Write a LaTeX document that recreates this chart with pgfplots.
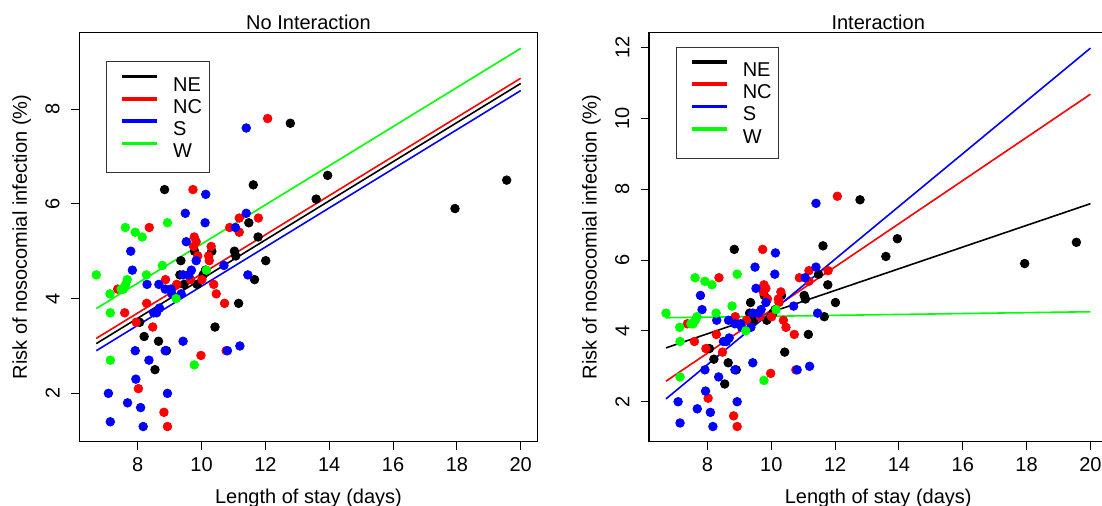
\documentclass[border=0pt]{standalone}
\usepackage{pgfplots}
\pgfplotsset{compat=1.18}
\usepackage{fontspec}
\setmainfont{Liberation Sans}
\definecolor{rred}{RGB}{255,0,0}
\definecolor{rblue}{RGB}{0,0,255}
\definecolor{rgreen}{RGB}{0,255,0}

\newcommand{\NEpts}{(8.84,6.3) (12.78,7.7) (13.95,6.6) (13.59,6.1) (19.56,6.5) (17.94,5.9) (11.62,6.4) (11.48,5.6) (11.77,5.3) (11.03,5.0) (11.07,4.9) (12.01,4.8) (11.66,4.4) (11.16,3.9) (10.42,3.4) (9.78,5.0) (10.32,5.0) (9.35,4.8) (9.32,4.5) (9.45,4.3) (9.86,4.3) (10.05,4.5) (10.12,4.6) (8.06,3.5) (8.20,3.2) (8.65,3.1) (8.90,2.9) (8.54,2.5)}
\newcommand{\NCpts}{(12.07,7.8) (9.73,6.3) (8.36,5.5) (11.18,5.7) (11.78,5.7) (10.88,5.5) (11.18,5.4) (9.77,5.3) (9.83,5.2) (9.75,5.1) (10.30,5.1) (9.88,4.9) (10.22,4.9) (10.24,4.8) (10.01,4.4) (9.65,4.4) (8.87,4.4) (9.22,4.3) (10.38,4.3) (10.46,4.1) (10.72,3.9) (7.37,4.2) (7.59,3.7) (8.28,3.9) (7.95,3.5) (8.47,3.4) (8.02,2.1) (9.98,2.8) (10.77,2.9) (8.82,1.6) (8.93,1.3)}
\newcommand{\Spts}{(11.40,7.6) (10.13,6.2) (9.49,5.8) (11.40,5.8) (10.11,5.6) (11.06,5.5) (9.52,5.2) (7.78,5.0) (9.83,4.8) (7.83,4.6) (9.68,4.6) (10.70,4.7) (9.42,4.5) (9.60,4.5) (11.45,4.5) (8.29,4.3) (8.66,4.3) (8.86,4.2) (9.04,4.2) (9.36,4.1) (9.07,4.1) (8.68,3.8) (8.50,3.7) (8.59,3.7) (9.42,3.1) (7.92,2.9) (8.86,2.9) (10.81,2.9) (11.20,3.0) (8.35,2.7) (7.94,2.3) (7.08,2.0) (8.93,2.0) (7.68,1.8) (8.09,1.7) (7.14,1.4) (8.17,1.3)}
\newcommand{\Wpts}{(6.70,4.5) (7.61,5.5) (7.92,5.4) (8.14,5.3) (8.93,5.6) (8.77,4.7) (8.27,4.5) (7.48,4.2) (7.55,4.2) (7.62,4.3) (7.67,4.4) (7.13,4.1) (7.14,3.7) (9.20,4.0) (10.15,4.6) (7.14,2.7) (9.77,2.6)}

\pgfplotsset{
  rstyle/.style={
    scale only axis, width=229.2pt, height=204.7pt,
    xmin=6.168, xmax=20.532,
    xtick={8,10,...,20},
    tick align=outside, xtick pos=left, ytick pos=left,
    major tick length=4.15pt,
    tick style={black, line width=0.5pt},
    axis line style={black, line width=0.6pt},
    minor tick num=0,
    /pgf/number format/assume math mode=true,
    font=\fontsize{10}{12}\selectfont,
    xticklabel style={inner sep=0pt, anchor=north, yshift=-3.5pt},
    yticklabel style={rotate=90, anchor=south, inner xsep=0pt, inner ysep=5.5pt},
    xlabel={Length of stay (days)},
    ylabel={Risk of nosocomial infection (\%)},
    xlabel style={at={(axis description cs:0.5,-0.151)}, anchor=base, inner sep=0pt},
    ylabel style={at={(axis description cs:-0.1145,0.5)}, anchor=base, inner sep=0pt},
    every axis title shift=0pt,
    title style={at={(axis description cs:0.5,1.0056)}, anchor=base, inner sep=0pt},
    legend image code/.code={\fill[##1] (0pt,3.1pt) rectangle (16.5pt,4.1pt);},
    legend cell align=left,
    legend style={anchor=north west, draw=black!80, line width=0.5pt, fill=white,
      inner xsep=8pt, inner ysep=6pt, row sep=1.15pt,
      nodes={inner sep=0pt, text height=8.6pt, text depth=1.4pt},
      /tikz/every odd column/.append style={column sep=8pt}},
    pts/.style={only marks, mark=*, mark size=2.15pt, forget plot},
    rl/.style={line width=0.8pt, no marks},
  }
}

\begin{document}
\begin{tikzpicture}
\useasboundingbox (0,0) rectangle (551pt,253pt);
\begin{axis}[rstyle, at={(39.65pt,32.15pt)}, anchor=south west,
  ymin=0.98, ymax=9.62, ytick={2,4,6,8},
  title={No Interaction},
  legend style={at={(0.0582,0.929)}}]
\addplot[pts, black, fill=black] coordinates {\NEpts};
\addplot[pts, rred, fill=rred] coordinates {\NCpts};
\addplot[pts, rblue, fill=rblue] coordinates {\Spts};
\addplot[pts, rgreen, fill=rgreen] coordinates {\Wpts};
\addplot[rl, black] coordinates {(6.7,3.05) (20,8.54)};
\addplot[rl, rred] coordinates {(6.7,3.16) (20,8.65)};
\addplot[rl, rblue] coordinates {(6.7,2.90) (20,8.39)};
\addplot[rl, rgreen] coordinates {(6.7,3.79) (20,9.28)};
\legend{\makebox[10pt][l]{NE},\makebox[10pt][l]{NC},\makebox[10pt][l]{S},\makebox[10pt][l]{W}}
\end{axis}
\begin{axis}[rstyle, at={(324.5pt,32.15pt)}, anchor=south west,
  ymin=0.872, ymax=12.428, ytick={2,4,...,12},
  title={Interaction},
  legend style={at={(0.0582,0.965)}}]
\addplot[pts, black, fill=black] coordinates {\NEpts};
\addplot[pts, rred, fill=rred] coordinates {\NCpts};
\addplot[pts, rblue, fill=rblue] coordinates {\Spts};
\addplot[pts, rgreen, fill=rgreen] coordinates {\Wpts};
\addplot[rl, black] coordinates {(6.7,3.52) (20,7.59)};
\addplot[rl, rred] coordinates {(6.7,2.58) (20,10.68)};
\addplot[rl, rblue] coordinates {(6.7,2.08) (20,11.98)};
\addplot[rl, rgreen] coordinates {(6.7,4.37) (20,4.54)};
\legend{\makebox[10pt][l]{NE},\makebox[10pt][l]{NC},\makebox[10pt][l]{S},\makebox[10pt][l]{W}}
\end{axis}
\end{tikzpicture}
\end{document}
